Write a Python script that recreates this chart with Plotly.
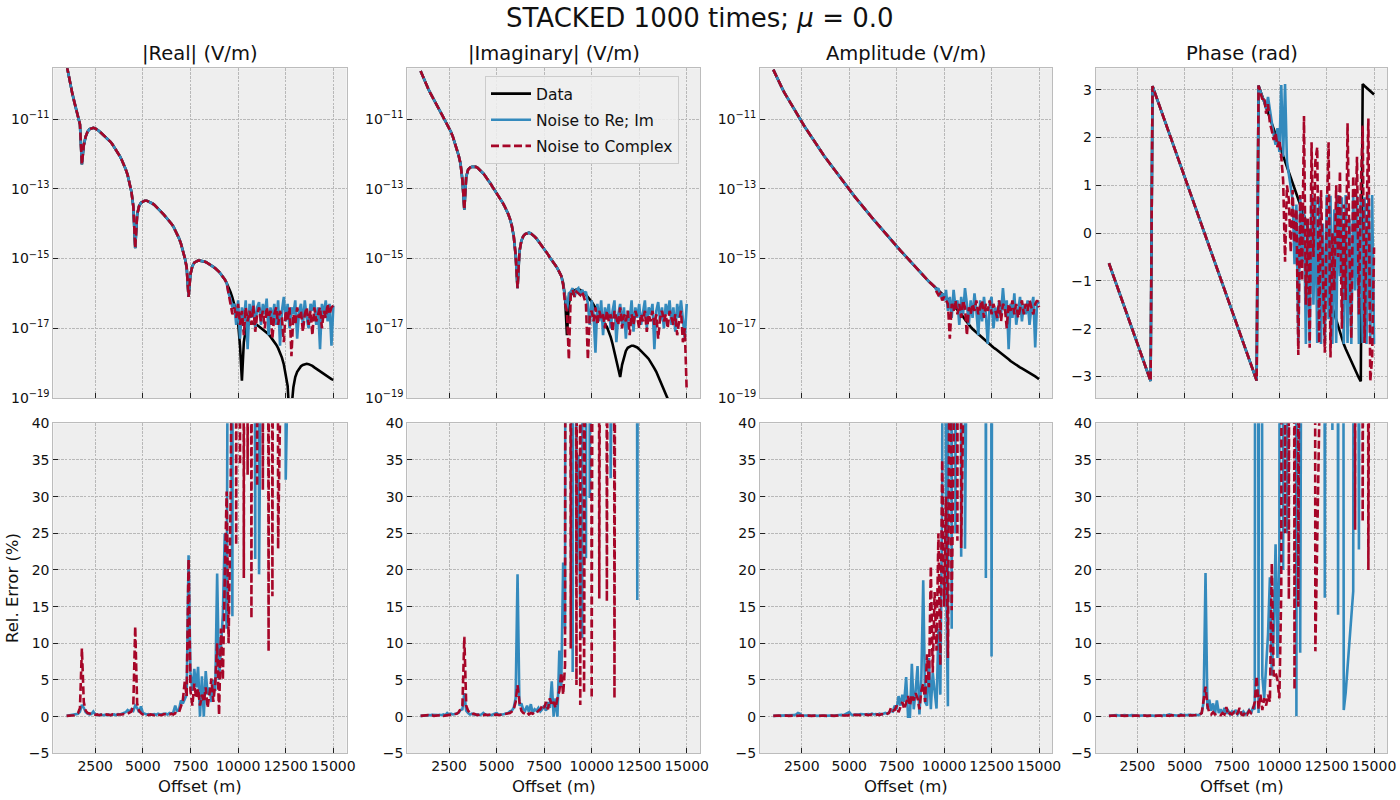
import plotly.graph_objects as go

# ---------------- data ----------------
offsets = list(range(1000, 15001, 100))  # m

# |Real| (log10 V/m)
real_data_log = [
    -9.45, -9.75, -10.02, -10.27, -10.5, -10.72, -10.93, -11.15, -12.3, -11.75,
    -11.5, -11.36, -11.29, -11.26, -11.25, -11.27, -11.3, -11.34, -11.39, -11.44,
    -11.5, -11.55, -11.6, -11.65, -11.72, -11.8, -11.88, -11.97, -12.07, -12.18,
    -12.3, -12.44, -12.6, -12.8, -13.08, -13.5, -14.7, -13.75, -13.5, -13.4,
    -13.36, -13.34, -13.34, -13.36, -13.38, -13.42, -13.46, -13.51, -13.56, -13.62,
    -13.68, -13.74, -13.8, -13.87, -13.94, -14.0, -14.08, -14.18, -14.3, -14.42,
    -14.57, -14.76, -14.98, -15.25, -16.1, -15.45, -15.22, -15.12, -15.08, -15.06,
    -15.06, -15.07, -15.08, -15.1, -15.13, -15.16, -15.2, -15.24, -15.28, -15.32,
    -15.38, -15.45, -15.52, -15.6, -15.7, -15.82, -15.96, -16.12, -16.3, -16.52,
    -16.85, -17.5, -18.5, -17.4, -17.05, -16.92, -16.87, -16.85, -16.86, -16.88,
    -16.91, -16.95, -16.99, -17.03, -17.07, -17.11, -17.17, -17.24, -17.31, -17.39,
    -17.47, -17.57, -17.69, -17.84, -18.04, -18.3, -18.65, -19.6, -19.3, -18.7,
    -18.4, -18.25, -18.15, -18.09, -18.05, -18.03, -18.02, -18.03, -18.05, -18.08,
    -18.12, -18.16, -18.2, -18.24, -18.28, -18.32, -18.36, -18.4, -18.43, -18.46,
    -18.48]
real_reim_tail_log = [  # offsets 9500 .. 15000
    -16.0, -16.15, -16.4, -16.3, -16.9,
    -16.2, -17.3, -16.4, -16.8, -16.2, -17.6, -16.3, -16.7, -16.2, -17.0,
    -16.4, -16.25, -16.9, -16.3, -16.6, -16.15, -17.2, -16.4, -16.8, -16.3,
    -16.9, -16.2, -17.5, -16.5, -16.1, -16.8, -16.3, -17.0, -16.4, -16.6,
    -16.2, -17.3, -16.5, -16.3, -16.9, -16.2, -16.7, -17.0, -16.3, -16.5,
    -16.2, -16.9, -16.4, -17.6, -16.3, -16.6, -16.2, -16.8, -16.3, -17.5,
    -16.35]
real_cplx_tail_log = [  # offsets 9500 .. 15000
    -16.0, -16.2, -16.6, -16.4, -16.7,
    -16.3, -16.9, -16.5, -17.2, -16.4, -16.8, -16.5, -16.9, -16.35, -17.1,
    -16.6, -16.4, -16.8, -16.5, -17.0, -16.4, -16.7, -16.5, -17.3, -16.6,
    -16.4, -16.9, -16.5, -16.7, -17.4, -16.5, -16.8, -16.4, -17.8, -16.6,
    -16.9, -16.4, -16.7, -16.5, -17.1, -16.6, -16.4, -16.9, -16.5, -17.2,
    -16.4, -16.8, -16.6, -16.4, -17.0, -16.5, -16.7, -16.3, -16.6, -16.4,
    -16.35]

# |Imaginary| (log10 V/m)
imag_data_log = [
    -9.62, -9.76, -9.89, -10.01, -10.13, -10.24, -10.35, -10.45, -10.55, -10.65,
    -10.75, -10.85, -10.95, -11.04, -11.13, -11.24, -11.37, -11.51, -11.67, -11.85,
    -12.04, -12.28, -12.75, -13.6, -12.65, -12.45, -12.39, -12.37, -12.36, -12.37,
    -12.4, -12.45, -12.5, -12.56, -12.63, -12.7, -12.78, -12.87, -12.96, -13.04,
    -13.12, -13.2, -13.29, -13.38, -13.48, -13.59, -13.71, -13.86, -14.06, -14.36,
    -14.9, -15.85, -14.8, -14.5, -14.36, -14.3, -14.27, -14.26, -14.28, -14.32,
    -14.37, -14.43, -14.5, -14.57, -14.64, -14.72, -14.8, -14.88, -14.97, -15.06,
    -15.12, -15.2, -15.28, -15.38, -15.5, -15.7, -16.1, -17.2, -16.3, -16.05,
    -15.96, -15.91, -15.89, -15.88, -15.9, -15.93, -15.98, -16.04, -16.1, -16.17,
    -16.24, -16.32, -16.42, -16.52, -16.62, -16.72, -16.8, -16.88, -16.96, -17.08,
    -17.25, -17.45, -17.7, -17.95, -18.2, -18.4, -18.05, -17.8, -17.65, -17.56,
    -17.52, -17.5, -17.5, -17.52, -17.55, -17.6, -17.65, -17.7, -17.76, -17.82,
    -17.88, -17.96, -18.05, -18.15, -18.25, -18.37, -18.5, -18.62, -18.75, -18.88,
    -19.02, -19.18, -19.35, -19.52, -19.7, -19.88, -20.06, -20.25, -20.45, -20.65,
    -20.85]
imag_reim_tail_log = [  # offsets 8500 .. 15000
    -15.75, -16.2, -16.5, -16.0, -15.95,
    -15.85, -16.1, -15.9, -15.85, -16.05, -15.9, -16.0, -15.95, -16.3, -16.9,
    -16.2, -16.6, -17.7, -16.3, -16.8, -16.2, -17.2, -16.4, -16.7, -16.3,
    -17.0, -16.5, -16.2, -17.4, -16.6, -16.3, -16.9, -16.4, -17.3, -16.5,
    -16.8, -16.2, -17.1, -16.4, -16.7, -16.3, -16.9, -16.5, -16.2, -17.0,
    -16.4, -16.6, -16.3, -17.6, -16.5, -16.25, -16.8, -16.4, -17.0, -16.3,
    -16.6, -16.2, -16.9, -16.4, -17.1, -16.3, -16.7, -16.2, -16.8, -17.3,
    -16.3]
imag_cplx_tail_log = [  # offsets 8500 .. 15000
    -15.75, -16.3, -16.5, -17.9, -16.0,
    -15.9, -16.1, -15.95, -16.0, -16.05, -15.95, -16.1, -16.3, -17.9, -16.6,
    -16.5, -16.8, -16.4, -16.9, -16.5, -16.7, -16.6, -17.0, -16.5, -16.8,
    -16.6, -17.1, -16.5, -16.7, -16.9, -16.4, -17.0, -16.6, -16.8, -16.5,
    -17.2, -16.6, -16.9, -16.5, -16.7, -17.0, -16.6, -16.8, -16.5, -17.1,
    -16.6, -16.8, -16.5, -16.9, -16.6, -17.3, -16.7, -16.5, -16.8, -16.6,
    -17.0, -16.5, -16.7, -16.9, -16.6, -17.2, -16.8, -16.5, -17.4, -17.0,
    -18.8]

# Amplitude (log10 V/m)
amp_data_log = [
    -9.58, -9.705, -9.825, -9.94, -10.05, -10.155, -10.255, -10.35, -10.445, -10.54,
    -10.63, -10.72, -10.81, -10.9, -10.99, -11.08, -11.17, -11.255, -11.34, -11.425,
    -11.51, -11.59, -11.67, -11.75, -11.83, -11.91, -11.99, -12.07, -12.145, -12.22,
    -12.295, -12.37, -12.445, -12.52, -12.595, -12.67, -12.74, -12.81, -12.88, -12.95,
    -13.02, -13.09, -13.16, -13.23, -13.3, -13.365, -13.43, -13.5, -13.565, -13.63,
    -13.695, -13.76, -13.825, -13.89, -13.955, -14.02, -14.085, -14.15, -14.215, -14.28,
    -14.345, -14.41, -14.47, -14.53, -14.59, -14.65, -14.71, -14.77, -14.83, -14.89,
    -14.95, -15.02, -15.08, -15.14, -15.21, -15.27, -15.33, -15.39, -15.45, -15.5,
    -15.56, -15.61, -15.66, -15.71, -15.76, -15.81, -15.86, -15.91, -15.96, -16.0,
    -16.05, -16.1, -16.16, -16.22, -16.28, -16.34, -16.4, -16.46, -16.53, -16.6,
    -16.67, -16.75, -16.83, -16.9, -16.96, -17.02, -17.07, -17.12, -17.17, -17.22,
    -17.27, -17.32, -17.37, -17.42, -17.46, -17.5, -17.55, -17.59, -17.63, -17.68,
    -17.72, -17.76, -17.81, -17.85, -17.89, -17.94, -17.98, -18.02, -18.06, -18.09,
    -18.12, -18.15, -18.18, -18.21, -18.24, -18.27, -18.3, -18.34, -18.38, -18.42,
    -18.46]
amp_reim_tail_log = [  # offsets 9500 .. 15000
    -15.81, -15.9, -15.85, -16.1, -16.0,
    -16.2, -15.9, -16.5, -16.1, -16.7, -15.9, -16.4, -16.2, -16.9, -16.1,
    -16.6, -15.85, -16.3, -16.9, -16.2, -16.7, -16.0, -16.5, -17.2, -16.2,
    -16.8, -16.1, -16.6, -17.45, -16.3, -16.1, -17.0, -16.4, -16.8, -16.2,
    -16.6, -15.85, -16.5, -16.2, -17.6, -16.3, -16.7, -16.0, -16.9, -16.4,
    -16.1, -16.8, -16.3, -16.6, -16.2, -16.9, -16.4, -16.1, -17.55, -16.2,
    -16.3]
amp_cplx_tail_log = [  # offsets 9500 .. 15000
    -15.81, -15.95, -16.05, -16.0, -16.2,
    -16.1, -16.2, -16.3, -17.3, -16.3, -16.5, -16.2, -16.6, -16.3, -16.7,
    -16.2, -16.4, -17.2, -16.4, -16.6, -16.3, -16.5, -16.2, -16.6, -16.4,
    -16.2, -16.7, -16.3, -16.5, -16.2, -16.6, -16.3, -16.5, -16.7, -16.2,
    -16.8, -16.3, -16.4, -17.0, -16.3, -16.5, -16.2, -16.6, -16.3, -16.7,
    -16.4, -16.2, -16.6, -16.3, -16.5, -16.2, -16.4, -16.6, -16.3, -16.2,
    -16.4]

# Phase (rad)
phase_data = [
    -0.63, -0.742, -0.854, -0.966, -1.078, -1.19, -1.302, -1.414, -1.526, -1.638,
    -1.75, -1.862, -1.974, -2.086, -2.198, -2.31, -2.422, -2.534, -2.646, -2.758,
    -2.87, -2.982, -3.094, 3.077, 2.965, 2.853, 2.741, 2.629, 2.517, 2.405,
    2.293, 2.181, 2.069, 1.957, 1.845, 1.733, 1.621, 1.509, 1.397, 1.285,
    1.173, 1.061, 0.949, 0.837, 0.725, 0.613, 0.501, 0.389, 0.277, 0.165,
    0.053, -0.059, -0.171, -0.283, -0.395, -0.507, -0.619, -0.731, -0.843, -0.955,
    -1.067, -1.179, -1.291, -1.403, -1.515, -1.627, -1.739, -1.851, -1.963, -2.075,
    -2.187, -2.299, -2.411, -2.523, -2.635, -2.747, -2.859, -2.971, -3.083, 3.088,
    2.976, 2.864, 2.752, 2.64, 2.528, 2.416, 2.304, 2.192, 2.08, 1.968,
    1.856, 1.744, 1.632, 1.52, 1.408, 1.296, 1.184, 1.072, 0.96, 0.848,
    0.736, 0.62, 0.5, 0.37, 0.24, 0.11, -0.02, -0.15, -0.28, -0.41,
    -0.54, -0.67, -0.8, -0.93, -1.06, -1.19, -1.32, -1.45, -1.58, -1.71,
    -1.84, -1.96, -2.08, -2.2, -2.32, -2.42, -2.51, -2.6, -2.69, -2.78,
    -2.87, -2.95, -3.03, -3.1, 3.12, 3.08, 3.04, 3.0, 2.96, 2.93,
    2.9]
phase_reim_tail = [  # offsets 9000 .. 15000
    2.95, 2.85, 2.75, 2.6, 2.85, 2.55, 2.3, 2.05, 1.85, 2.2,
    1.7, 3.1, 1.6, 3.12, 1.5, 1.2, 0.95, 0.7, -0.65, 0.6,
    -2.3, 0.75, -0.6, 0.5, -2.32, 0.3, -2.3, 0.8, -1.5, 0.7,
    -2.3, 0.75, -2.32, 0.2, -2.3, 0.8, -1.8, 0.78, -2.32, 0.5,
    -2.3, 0.8, -0.9, 0.75, -2.32, 0.8, -2.3, 0.3, -2.32, 0.8,
    -1.2, 0.78, -2.32, 0.8, -2.3, 0.75, -2.32, 0.8, -2.3, 0.8,
    -2.32]
phase_cplx_tail = [  # offsets 9000 .. 15000
    2.95, 2.8, 2.85, 2.5, 2.7, 2.3, 2.15, 1.95, 2.1, 1.8,
    1.95, 1.6, 1.1, -0.6, 1.0, 0.7, -0.4, 0.9, -0.2, 0.5,
    -2.55, 0.8, -1.0, 2.45, -1.5, 0.3, -2.4, 1.9, -0.5, 1.5,
    1.8, -2.3, 0.9, -1.0, -2.5, 0.4, 1.9, -2.6, 0.0, -1.2,
    1.0, -0.5, 1.3, -2.0, 0.6, -1.4, 2.3, -0.3, -2.2, 1.2,
    0.0, 1.6, -1.7, 0.9, 2.25, -2.3, 0.3, 2.4, -3.1, -2.6,
    -0.3]

H = 300  # rel. error values far above the plotted window
# Rel. error (%) -- Noise to Re; Im
real_err_reim = [
    0.1, 0.15, 0.2, 0.2, 0.25, 0.3, 0.4, 0.7, 1.6, 1.2,
    0.6, 0.4, 0.3, 0.35, 0.7, 0.3, 0.25, 0.2, 0.3, 0.2,
    0.25, 0.2, 0.3, 0.2, 0.25, 0.3, 0.2, 0.35, 0.3, 0.4,
    0.5, 0.6, 0.9, 0.7, 1.0, 0.8, 1.5, 1.2, 0.6, 1.4,
    0.5, 0.4, 0.3, 0.35, 0.25, 0.3, 0.35, 0.25, 0.4, 0.3,
    0.35, 0.3, 0.4, 0.3, 0.5, 0.4, 0.6, 1.5, 0.7, 1.0,
    2.2, 1.8, 2.5, 3.0, 22.0, 6.0, 3.5, 6.5, 4.0, 6.8,
    0.0, 5.5, 0.0, 6.2, 3.0, 4.0, 2.0, 5.0, 3.5, 19.5,
    5.0, 10.0, 14.0, 25.0, 12.0, 90, 60, 13.7, H, 150,
    H, 120, 250, 180, H, 200, 400, 250, 150, 21.5,
    H, 19.4, 200, 350, 250, H, 280, 350, H, 250,
    H, 350, 280, H, 250, 32.3, H, 350, H, 280,
    H, 350, H, 250, H, 350, H, 280, H, 350,
    H, 250, H, 350, H, 280, H, 350, H, 250,
    H]
imag_err_reim = [
    0.1, 0.1, 0.15, 0.2, 0.15, 0.2, 0.25, 0.2, 0.15, 0.2,
    0.25, 0.2, 0.3, 0.2, 0.5, 0.3, 0.4, 0.3, 0.35, 0.4,
    0.5, 0.9, 1.0, 3.2, 0.8, 0.5, 0.3, 0.4, 0.3, 0.25,
    0.3, 0.2, 0.3, 0.5, 0.3, 0.25, 0.3, 0.2, 0.3, 0.4,
    0.5, 0.3, 0.25, 0.3, 0.35, 0.4, 0.5, 0.7, 0.8, 1.2,
    2.5, 19.4, 1.5, 1.8, 1.0, 0.8, 1.5, 0.6, 1.7, 0.5,
    1.0, 0.8, 1.2, 0.7, 1.0, 1.5, 0.8, 2.0, 1.2, 4.8,
    0.0, 2.5, 0.0, 9.0, 4.0, 21.0, 12.0, H, 200, H,
    6.1, 250, 20.0, 35.7, 15.0, 10.7, H, 21.6, 350, 29.8,
    H, 400, 200, H, 250, 350, H, 200, H, 250,
    32.5, H, 350, 250, H, 280, H, 350, H, 250,
    H, 350, 280, H, 15.9, H, 350, H, 250, H,
    H, 350, H, 250, H, 350, H, 280, H, 350,
    H, 250, H, 350, H, 280, H, 350, H, 250,
    H]
amp_err_reim = [
    0.1, 0.1, 0.15, 0.1, 0.15, 0.1, 0.15, 0.1, 0.15, 0.1,
    0.15, 0.2, 0.3, 0.5, 0.4, 0.2, 0.15, 0.2, 0.15, 0.1,
    0.15, 0.2, 0.15, 0.1, 0.15, 0.2, 0.15, 0.1, 0.15, 0.2,
    0.15, 0.1, 0.15, 0.2, 0.15, 0.2, 0.25, 0.2, 0.3, 0.4,
    0.6, 0.3, 0.2, 0.3, 0.25, 0.3, 0.35, 0.3, 0.25, 0.3,
    0.35, 0.3, 0.4, 0.3, 0.35, 0.3, 0.4, 0.3, 0.4, 0.5,
    0.4, 0.6, 0.8, 0.7, 1.5, 1.0, 2.8, 1.5, 3.0, 2.0,
    5.4, 0.0, 0.0, 7.2, 1.0, 3.5, 6.9, 0.3, 5.0, 18.6,
    2.0, 1.5, 8.0, 1.0, 6.0, 3.5, 1.1, 12.0, 3.0, 30.0,
    H, 20.0, 1.4, 250, 12.0, H, 25.0, H, 250, 21.8,
    H, 22.9, H, 250, H, 350, H, 280, H, 250,
    H, 350, 18.9, H, 280, 8.2, H, 350, H, 250,
    H, 350, H, 250, H, 350, H, 280, H, 350,
    H, 250, H, 350, H, 280, H, 350, H, 250,
    H]
phase_err_reim = [
    0.1, 0.15, 0.1, 0.15, 0.2, 0.15, 0.1, 0.15, 0.2, 0.15,
    0.1, 0.15, 0.2, 0.15, 0.1, 0.15, 0.1, 0.15, 0.2, 0.15,
    0.1, 0.15, 0.2, 0.15, 0.1, 0.15, 0.2, 0.15, 0.1, 0.2,
    0.15, 0.2, 0.3, 0.2, 0.15, 0.2, 0.15, 0.2, 0.3, 0.2,
    0.15, 0.2, 0.25, 0.2, 0.15, 0.2, 0.25, 0.2, 0.3, 0.5,
    2.0, 19.6, 1.0, 2.3, 0.8, 1.8, 0.4, 2.2, 0.5, 1.0,
    0.3, 1.2, 0.4, 0.8, 0.3, 0.7, 0.5, 0.9, 0.3, 0.6,
    0.4, 0.7, 0.3, 0.5, 0.9, 0.4, 1.2, 1.0, H, 0.5,
    H, 5.5, 2.5, 6.4, 11.2, 19.0, 5.6, 12.0, 23.5, 8.0,
    22.0, H, 20.0, H, 25.0, H, 350, 250, H, 0.04,
    H, 8.7, H, 250, H, 350, H, 280, H, 250,
    H, 350, 280, H, 16.2, H, 350, H, 39.1, H,
    H, 13.9, H, H, 0.9, 3.2, 7.0, 10.5, 13.7, 17.1,
    H, H, 22.8, H, 350, H, 280, H, 350, H,
    H]

# Rel. error (%) -- Noise to Complex
real_err_cplx = [
    0.1, 0.1, 0.15, 0.2, 0.2, 0.3, 0.5, 1.2, 9.3, 2.0,
    0.8, 0.5, 0.4, 0.3, 0.3, 0.25, 0.3, 0.2, 0.25, 0.3,
    0.2, 0.3, 0.25, 0.2, 0.3, 0.25, 0.2, 0.3, 0.25, 0.3,
    0.35, 0.3, 0.4, 0.5, 0.7, 1.5, 12.3, 1.8, 0.8, 0.5,
    0.3, 0.25, 0.3, 0.2, 0.3, 0.25, 0.2, 0.3, 0.25, 0.3,
    0.2, 0.35, 0.3, 0.25, 0.3, 0.4, 0.3, 0.5, 0.4, 0.6,
    1.5, 2.2, 4.8, 2.8, 21.5, 3.5, 1.5, 4.5, 2.5, 3.8,
    1.5, 3.0, 2.0, 4.0, 1.2, 3.5, 5.2, 2.0, 4.5, 10.0,
    0.2, 12.0, 5.0, 19.0, 30.7, 10.0, 28.0, 60, H, 23.4,
    250, 34.3, H, 18.9, 280, 33.0, 250, 13.4, H, 220,
    31.4, H, 250, 30.9, H, 220, 8.9, H, 16.4, 260,
    H, 22.9, H, 280, H, 250, H, 350, H, 280,
    H, 350, H, 250, H, 350, H, 280, H, 350,
    H, 250, H, 350, H, 280, H, 350, H, 250,
    H]
imag_err_cplx = [
    0.1, 0.15, 0.1, 0.15, 0.2, 0.15, 0.2, 0.1, 0.15, 0.2,
    0.15, 0.2, 0.1, 0.15, 0.2, 0.15, 0.2, 0.25, 0.3, 0.4,
    0.6, 1.0, 1.5, 10.9, 1.5, 0.8, 0.5, 0.3, 0.4, 0.3,
    0.2, 0.3, 0.25, 0.2, 0.3, 0.2, 0.25, 0.3, 0.2, 0.25,
    0.3, 0.2, 0.25, 0.3, 0.35, 0.3, 0.4, 0.5, 0.7, 1.0,
    2.0, 4.3, 2.0, 0.8, 0.5, 0.4, 0.6, 0.3, 0.5, 0.4,
    0.6, 0.5, 0.8, 1.0, 1.5, 1.2, 2.0, 1.0, 2.5, 1.5,
    2.0, 1.2, 2.5, 3.5, 6.0, 3.0, 7.0, H, 250, 9.3,
    H, 250, 4.3, H, 1.6, H, 3.2, 280, 200, H,
    2.5, H, 250, H, 16.1, H, 250, H, 15.7, H,
    250, H, 2.5, H, 350, H, 280, H, 350, H,
    H, 350, H, 250, H, 350, H, 280, H, 350,
    H, 250, H, 350, H, 280, H, 350, H, 250,
    H, 350, H, 250, H, 350, H, 280, H, 350,
    H]
amp_err_cplx = [
    0.1, 0.15, 0.1, 0.15, 0.1, 0.15, 0.1, 0.15, 0.1, 0.15,
    0.1, 0.15, 0.1, 0.15, 0.2, 0.15, 0.1, 0.15, 0.1, 0.15,
    0.1, 0.15, 0.2, 0.15, 0.1, 0.15, 0.2, 0.15, 0.1, 0.15,
    0.2, 0.15, 0.1, 0.15, 0.2, 0.15, 0.2, 0.15, 0.1, 0.15,
    0.2, 0.15, 0.2, 0.25, 0.2, 0.15, 0.2, 0.25, 0.2, 0.3,
    0.2, 0.25, 0.3, 0.2, 0.25, 0.3, 0.2, 0.35, 0.3, 0.25,
    0.4, 0.5, 1.2, 0.8, 0.9, 1.5, 0.6, 1.2, 2.0, 1.0,
    1.8, 2.8, 1.5, 3.0, 2.2, 3.2, 2.5, 1.0, 3.5, 4.5,
    2.0, 8.5, 4.0, 20.5, 6.0, 17.0, 9.0, 25.0, 7.0, 35.0,
    15.0, 30.0, 8.0, 60, 14.5, 38.0, H, 24.0, H, 23.0,
    H, 350, H, 250, H, 350, H, 280, H, 350,
    H, 250, H, 350, H, 280, H, 350, H, 250,
    H, 350, H, 250, H, 350, H, 280, H, 350,
    H, 250, H, 350, H, 280, H, 350, H, 250,
    H]
phase_err_cplx = [
    0.1, 0.15, 0.2, 0.15, 0.1, 0.15, 0.2, 0.15, 0.1, 0.15,
    0.2, 0.15, 0.1, 0.15, 0.2, 0.15, 0.1, 0.15, 0.2, 0.15,
    0.1, 0.15, 0.2, 0.15, 0.1, 0.15, 0.2, 0.15, 0.1, 0.15,
    0.2, 0.15, 0.1, 0.2, 0.15, 0.2, 0.15, 0.1, 0.2, 0.15,
    0.2, 0.15, 0.1, 0.2, 0.15, 0.2, 0.15, 0.2, 0.3, 0.5,
    2.0, 4.1, 1.5, 0.5, 0.3, 0.6, 0.3, 0.4, 0.3, 0.2,
    0.5, 0.3, 1.3, 0.2, 0.5, 0.3, 0.6, 0.2, 0.5, 1.2,
    0.3, 0.2, 0.6, 0.3, 0.8, 0.5, 1.0, 2.0, 5.5, 1.0,
    3.0, 0.9, 2.5, 1.5, 3.0, 2.0, 20.9, 5.5, 6.0, 5.0,
    2.5, 17.1, H, 25.0, H, 16.0, H, 250, 3.7, H,
    15.0, H, 250, H, 350, H, 280, H, 350, 8.9,
    H, 350, H, 250, H, 350, H, 280, H, 350,
    H, 250, H, 350, H, 280, H, 350, H, 250,
    25.5, H, H, H, 26.6, H, H, 20.0, H, H,
    H]

n = len(offsets)
for arr in [real_data_log, imag_data_log, amp_data_log, phase_data,
            real_err_reim, imag_err_reim, amp_err_reim, phase_err_reim,
            real_err_cplx, imag_err_cplx, amp_err_cplx, phase_err_cplx]:
    assert len(arr) == n, len(arr)


def with_tail(head, tail):
    return head[:n - len(tail)] + tail


def pow10(vals):
    return [10.0 ** v for v in vals]


top_series = [
    (pow10(real_data_log), pow10(with_tail(real_data_log, real_reim_tail_log)),
     pow10(with_tail(real_data_log, real_cplx_tail_log))),
    (pow10(imag_data_log), pow10(with_tail(imag_data_log, imag_reim_tail_log)),
     pow10(with_tail(imag_data_log, imag_cplx_tail_log))),
    (pow10(amp_data_log), pow10(with_tail(amp_data_log, amp_reim_tail_log)),
     pow10(with_tail(amp_data_log, amp_cplx_tail_log))),
    (phase_data, with_tail(phase_data, phase_reim_tail),
     with_tail(phase_data, phase_cplx_tail)),
]
bottom_series = [
    (real_err_reim, real_err_cplx),
    (imag_err_reim, imag_err_cplx),
    (amp_err_reim, amp_err_cplx),
    (phase_err_reim, phase_err_cplx),
]
titles = ["|Real| (V/m)", "|Imaginary| (V/m)", "Amplitude (V/m)", "Phase (rad)"]
names = ["Data", "Noise to Re; Im", "Noise to Complex"]

# ---------------- styling ----------------
W, Hh = 1400, 800
BLACK, BLUE, RED = "#000000", "#348ABD", "#A60628"
FONT = "DejaVu Sans, Verdana, sans-serif"
LW = 2.6
DASH = "8px,3.5px"
col_px = [(53.3, 346.7), (407.3, 700.0), (760.0, 1052.3), (1095.7, 1387.3)]
top_px = (68.3, 398.0)
bot_px = (423.3, 753.3)

fig = go.Figure()

axis_common = dict(
    showgrid=True, gridcolor="#b8b8b8", gridwidth=0.6, griddash="2.6px,1.2px",
    showline=True, mirror=True, linecolor="#bcbcbc", linewidth=1,
    ticks="inside", ticklen=5, tickwidth=1, tickcolor="#222222",
    tickfont=dict(family=FONT, size=14, color="#111111"),
    zeroline=False, automargin=False,
)

log_ticks = [1e-19, 1e-17, 1e-15, 1e-13, 1e-11]
log_text = ["10<sup>\u221219</sup>", "10<sup>\u221217</sup>", "10<sup>\u221215</sup>",
            "10<sup>\u221213</sup>", "10<sup>\u221211</sup>"]
x_ticks = [2500, 5000, 7500, 10000, 12500, 15000]

layout_axes = {}
for c in range(4):
    x0, x1 = col_px[c]
    xd = [x0 / W, x1 / W]
    for r in range(2):
        idx = c + 1 + 4 * r
        ypx = top_px if r == 0 else bot_px
        yd = [1 - ypx[1] / Hh, 1 - ypx[0] / Hh]
        xa = dict(axis_common, domain=xd, anchor="y%d" % idx, range=[300, 15700],
                  tickmode="array", tickvals=x_ticks,
                  ticktext=[str(v) for v in x_ticks], showticklabels=(r == 1))
        if r == 0 and c < 3:
            ya = dict(axis_common, domain=yd, anchor="x%d" % idx, type="log",
                      range=[-19.0, -9.543], tickmode="array",
                      tickvals=log_ticks, ticktext=log_text)
        elif r == 0:
            ya = dict(axis_common, domain=yd, anchor="x%d" % idx,
                      range=[-3.45, 3.45], tickmode="array",
                      tickvals=[-3, -2, -1, 0, 1, 2, 3])
        else:
            ya = dict(axis_common, domain=yd, anchor="x%d" % idx,
                      range=[-5, 40], tickmode="array",
                      tickvals=[-5, 0, 5, 10, 15, 20, 25, 30, 35, 40])
        layout_axes["xaxis%d" % idx] = xa
        layout_axes["yaxis%d" % idx] = ya

for c in range(4):
    xs = "x%d" % (c + 1)
    ys = "y%d" % (c + 1)
    d, reim, cplx = top_series[c]
    fig.add_trace(go.Scatter(x=offsets, y=d, mode="lines", name=names[0],
                             line=dict(color=BLACK, width=LW), xaxis=xs, yaxis=ys,
                             showlegend=(c == 0), legendgroup="a"))
    fig.add_trace(go.Scatter(x=offsets, y=reim, mode="lines", name=names[1],
                             line=dict(color=BLUE, width=LW), xaxis=xs, yaxis=ys,
                             showlegend=(c == 0), legendgroup="b"))
    fig.add_trace(go.Scatter(x=offsets, y=cplx, mode="lines", name=names[2],
                             line=dict(color=RED, width=LW, dash=DASH),
                             xaxis=xs, yaxis=ys, showlegend=(c == 0), legendgroup="c"))
    xs2 = "x%d" % (c + 5)
    ys2 = "y%d" % (c + 5)
    e_reim, e_cplx = bottom_series[c]
    fig.add_trace(go.Scatter(x=offsets, y=e_reim, mode="lines", name=names[1],
                             line=dict(color=BLUE, width=LW), xaxis=xs2, yaxis=ys2,
                             showlegend=False))
    fig.add_trace(go.Scatter(x=offsets, y=e_cplx, mode="lines", name=names[2],
                             line=dict(color=RED, width=LW, dash=DASH),
                             xaxis=xs2, yaxis=ys2, showlegend=False))

annotations = []
annotations.append(dict(text="STACKED 1000 times; <i>\u03bc</i> = 0.0", x=0.5, y=1 - 18 / Hh,
                        xref="paper", yref="paper", showarrow=False,
                        xanchor="center", yanchor="middle",
                        font=dict(family=FONT, size=26, color="#111111")))
for c in range(4):
    xc = (col_px[c][0] + col_px[c][1]) / 2 / W
    annotations.append(dict(text=titles[c], x=xc, y=1 - 53 / Hh, xref="paper", yref="paper",
                            showarrow=False, xanchor="center", yanchor="middle",
                            font=dict(family=FONT, size=19.5, color="#111111")))
    annotations.append(dict(text="Offset (m)", x=xc, y=1 - 786 / Hh, xref="paper", yref="paper",
                            showarrow=False, xanchor="center", yanchor="middle",
                            font=dict(family=FONT, size=16.5, color="#111111")))
annotations.append(dict(text="Rel. Error (%)", x=12 / W, y=1 - 588 / Hh, xref="paper",
                        yref="paper", showarrow=False, textangle=-90,
                        xanchor="center", yanchor="middle",
                        font=dict(family=FONT, size=16.5, color="#111111")))

fig.update_layout(
    width=W, height=Hh, margin=dict(l=0, r=0, t=0, b=0),
    paper_bgcolor="white", plot_bgcolor="#eeeeee",
    font=dict(family=FONT, size=14, color="#111111"),
    showlegend=True,
    legend=dict(x=485 / W, y=1 - 76 / Hh, xanchor="left", yanchor="top",
                bgcolor="rgba(238,238,238,0.85)", bordercolor="#cccccc", borderwidth=1,
                font=dict(family=FONT, size=15.5, color="#111111"),
                tracegroupgap=3, itemwidth=40),
    annotations=annotations,
    **layout_axes,
)

fig.write_html("out.html")
